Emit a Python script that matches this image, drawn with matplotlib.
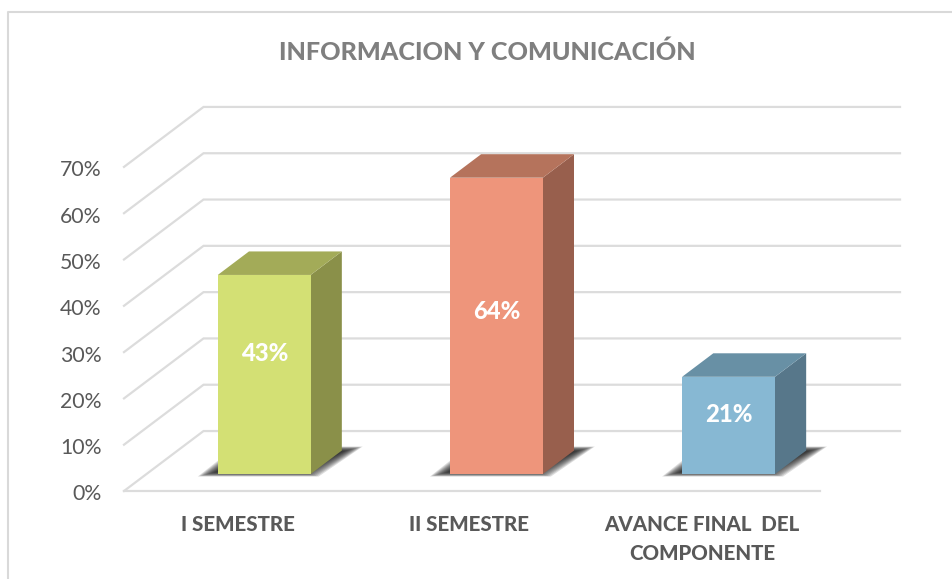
import matplotlib
matplotlib.use("Agg")
import matplotlib.pyplot as plt
from matplotlib.patches import Polygon
from matplotlib.lines import Line2D
from matplotlib.transforms import ScaledTranslation

categories = ["I SEMESTRE", "II SEMESTRE", "AVANCE FINAL  DEL\nCOMPONENTE"]
values = [43, 64, 21]
value_labels = ["43%", "64%", "21%"]
y_ticks = [0, 10, 20, 30, 40, 50, 60, 70]
y_tick_labels = ["0%", "10%", "20%", "30%", "40%", "50%", "60%", "70%"]
title = "INFORMACION Y COMUNICACIÓN"
label_heights = [26.0, 35.1, 12.9]

front_colors = ["#D3E074", "#EE957B", "#87B8D3"]
top_colors = ["#A3AB58", "#B5735C", "#6890A5"]
side_colors = ["#8A9049", "#985F4D", "#57778A"]

W, H = 953, 579
FONT = "Lato"
GRID = "#DCDCDC"
TEXT = "#595959"

fig = plt.figure(figsize=(W / 100, H / 100), dpi=100, facecolor="white")
ax = fig.add_axes([124 / W, (H - 491) / H, 696.5 / W, 324.1 / H])
ax.set_xlim(0, 3)
ax.set_ylim(0, 70)
ax.patch.set_visible(False)
for s in ax.spines.values():
    s.set_visible(False)

PX = 3 / 696.5      # category units per pixel
PY = 70 / 324.1     # value units per pixel
DX = 0.3425         # full depth, category units
DY = 12.95          # full depth, value units

# outer frame
fig.add_artist(Line2D([8.5 / W, 8.5 / W, 1], [0, (H - 11.5) / H, (H - 11.5) / H],
                      color="#D9D9D9", lw=1.5))

# gridlines: side wall then back wall
for v in y_ticks:
    ax.plot([0, DX, 3 + DX], [v, v + DY, v + DY], color=GRID, lw=1.6, clip_on=False,
            zorder=1, solid_joinstyle="miter")
ax.plot([0, 3], [0, 0], color=GRID, lw=1.6, clip_on=False, zorder=1)

BAR_W = 0.4
D0, D1 = 0.283, 0.675

for i, v in enumerate(values):
    x0 = i + 0.5 - BAR_W / 2 + 0.104
    x1 = x0 + BAR_W
    base = DY * D0
    dx = DX * (D1 - D0)
    dy = DY * (D1 - D0)

    # soft shadow on the floor: stacked translucent shrinking polygons
    layers = 12
    for k in range(layers):
        tx = k * 1.6 * PX
        ty = k * 0.4 * PY
        left = x0 - 20 * PX
        right = x1 + 8 * PX
        y_lo = base - 2.5 * PY
        y_hi = y_lo + 30 * PY
        pts = [(left + tx, y_lo + ty), (right - tx, y_lo + ty),
               (right + 44 * PX - tx, y_hi - ty), (left + 38 * PX + tx, y_hi - ty)]
        ax.add_patch(Polygon(pts, closed=True, facecolor="#1E1E1E", alpha=0.15,
                             edgecolor="none", clip_on=False, zorder=2))

    ax.add_patch(Polygon([(x1, base), (x1 + dx, base + dy), (x1 + dx, base + dy + v), (x1, base + v)],
                         closed=True, facecolor=side_colors[i], edgecolor="none",
                         clip_on=False, zorder=3))
    ax.add_patch(Polygon([(x0, base + v), (x1, base + v), (x1 + dx, base + v + dy), (x0 + dx, base + v + dy)],
                         closed=True, facecolor=top_colors[i], edgecolor="none",
                         clip_on=False, zorder=3))
    ax.bar(x0, v, width=BAR_W, bottom=base, align="edge", color=front_colors[i],
           linewidth=0, clip_on=False, zorder=4)
    ax.text((x0 + x1) / 2, base + label_heights[i], value_labels[i], color="white",
            fontsize=17.2, fontweight=900, family=FONT, ha="center", va="center", zorder=5)

ax.set_yticks(y_ticks)
ax.set_yticklabels(y_tick_labels, family=FONT, fontsize=15.3, color=TEXT)
ax.set_xticks([0.49, 1.485, 2.49])
ax.set_xticklabels(categories, family=FONT, fontsize=14.8, fontweight=900, color=TEXT,
                   linespacing=1.65)
ax.tick_params(axis="y", length=0, pad=16)
ax.tick_params(axis="x", length=0, pad=17)
shift = ScaledTranslation(0, -1.5 / 100, fig.dpi_scale_trans)
for lab in ax.get_yticklabels():
    lab.set_transform(lab.get_transform() + shift)

fig.text(487.5 / W, (H - 52) / H, title, family=FONT, fontsize=18.1, fontweight=900,
         color="#7F7F7F", ha="center", va="center")

fig.savefig("out.png", dpi=100, facecolor="white")
